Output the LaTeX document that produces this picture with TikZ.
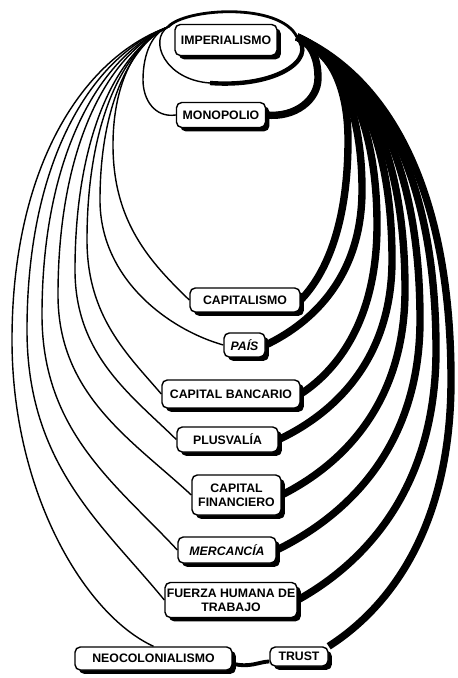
\documentclass[tikz,border=0pt]{standalone}
\usepackage{fontspec}
\setmainfont{Liberation Sans}
\usetikzlibrary{shadows}
\pgfdeclarelayer{bg}
\pgfsetlayers{bg,main}
\begin{document}
\begin{tikzpicture}[x=0.02cm,y=-0.02cm,
  box/.style={draw, line width=0.8pt, fill=white, rounded corners=3pt,
    drop shadow={shadow xshift=2.2pt,shadow yshift=-2.2pt,fill=black,opacity=1},
    align=center, inner sep=1pt, font=\bfseries\fontsize{7}{8}\selectfont},
  itbox/.style={box, font=\bfseries\itshape\fontsize{7}{8}\selectfont},
  lline/.style={line width=0.8pt},
  rline/.style={line width=4.2pt},
  topline/.style={line width=1.6pt}]
\useasboundingbox (0,0) rectangle (457,678);
% nodes
\node[box, minimum width=2.04cm, minimum height=0.62cm] (imp) at (226,40) {IMPERIALISMO};
\node[box, minimum width=1.78cm, minimum height=0.5cm] (mono) at (221,115) {MONOPOLIO};
\node[box, minimum width=2.2cm, minimum height=0.48cm] (capm) at (245,300) {CAPITALISMO};
\node[itbox, minimum width=0.82cm, minimum height=0.48cm] (pais) at (244.5,345) {PAÍS};
\node[box, minimum width=2.76cm, minimum height=0.56cm] (banc) at (231,394) {CAPITAL BANCARIO};
\node[box, minimum width=2.02cm, minimum height=0.5cm] (plus) at (227.5,439.5) {PLUSVALÍA};
\node[box, minimum width=1.78cm, minimum height=0.8cm] (fin) at (236.5,495) {CAPITAL\\FINANCIERO};
\node[itbox, minimum width=1.96cm, minimum height=0.52cm] (merc) at (227,550) {MERCANCÍA};
\node[box, minimum width=2.64cm, minimum height=0.7cm] (fuer) at (231,600) {FUERZA HUMANA DE\\TRABAJO};
\node[box, minimum width=3.14cm, minimum height=0.46cm] (neo) at (153.5,658.5) {NEOCOLONIALISMO};
\node[box, minimum width=1.16cm, minimum height=0.38cm] (trust) at (299,656.5) {TRUST};
\coordinate (lc) at (168,27);
\coordinate (hub) at (297,37);
\coordinate (sb) at (210,83);
\begin{pgfonlayer}{bg}
% top bundle over IMPERIALISMO
\draw[topline] (lc) .. controls (185,8) and (280,2) .. (hub);
% loop round IMPERIALISMO
\draw[lline] (lc) .. controls (148,40) and (165,80) .. (sb);
\draw[line width=2.5pt] (hub) .. controls (318,60) and (275,88) .. (sb);
% MONOPOLIO
\draw[lline] (lc) .. controls (154,32) and (143,51) .. (143,80) .. controls (143,100) and (155,118) .. (mono.west);
\draw[rline] (hub) .. controls (309,42) and (318,55) .. (318,78) .. controls (318,100) and (295,118) .. (mono.east);
% left (thin) curves
\draw[lline] (lc) .. controls (138,39) and (113,80) .. (113,145) .. controls (113,222) and (150,262) .. (capm.west);
\draw[lline] (lc) .. controls (131,44) and (100,105) .. (100,200) .. controls (100,280) and (170,330) .. (pais.west);
\draw[lline] (lc) .. controls (123,48) and (87,123) .. (87,240) .. controls (87,317) and (128,355) .. (banc.west);
\draw[lline] (lc) .. controls (117,51) and (75,136) .. (75,270) .. controls (75,355) and (131,395) .. (plus.west);
\draw[lline] (lc) .. controls (107,54) and (58,148) .. (58,295) .. controls (58,395) and (132,440) .. (fin.west);
\draw[lline] (lc) .. controls (99,56) and (42,157) .. (42,315) .. controls (42,432) and (117,485) .. (merc.west);
\draw[lline] (lc) .. controls (90,57) and (27,163) .. (27,330) .. controls (27,465) and (103,525) .. (fuer.west);
\draw[lline] (lc) .. controls (82,58) and (12,168) .. (12,340) .. controls (12,493) and (85,615) .. (neo.north);
% right (thick) curves
\draw[rline] (hub) .. controls (328,49) and (348,83) .. (348,140) .. controls (348,228) and (324,276) .. (capm.east);
\draw[rline] (hub) .. controls (336,55) and (362,106) .. (362,190) .. controls (362,275) and (314,322) .. (pais.east);
\draw[rline] (hub) .. controls (345,60) and (377,122) .. (377,225) .. controls (377,318) and (339,369) .. (banc.east);
\draw[rline] (hub) .. controls (354,64) and (392,137) .. (392,260) .. controls (392,359) and (335,413) .. (plus.east);
\draw[rline] (hub) .. controls (362,67) and (405,151) .. (405,290) .. controls (405,403) and (343,464) .. (fin.east);
\draw[rline] (hub) .. controls (371,71) and (420,164) .. (420,320) .. controls (420,446) and (348,515) .. (merc.east);
\draw[rline] (hub) .. controls (380,75) and (436,178) .. (436,350) .. controls (436,487) and (366,562) .. (fuer.east);
\draw[rline] (hub) .. controls (389,78) and (451,191) .. (451,380) .. controls (451,527) and (390,607) .. (trust.north east);
% NEOCOLONIALISMO -- TRUST
\draw[line width=2.2pt] ([yshift=4pt]neo.south east) .. controls (250,668) and (258,662) .. ([yshift=3pt]trust.south west);
\end{pgfonlayer}
\end{tikzpicture}
\end{document}
